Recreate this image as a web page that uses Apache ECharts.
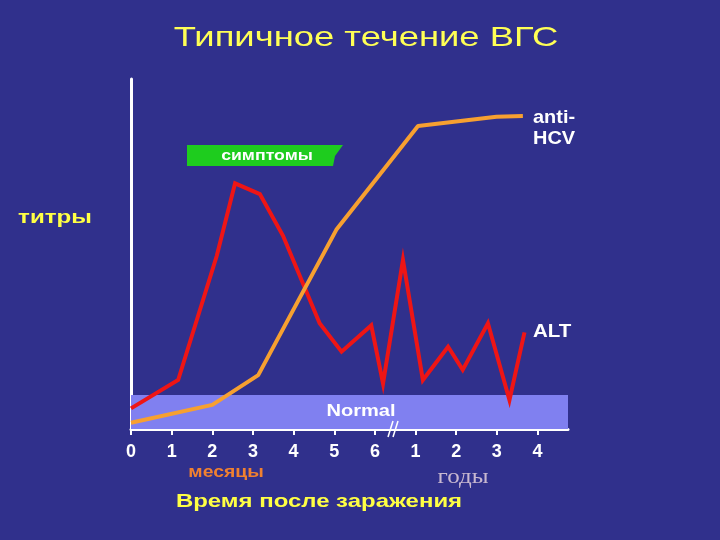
<!DOCTYPE html>
<html><head><meta charset="utf-8">
<script src="https://cdn.jsdelivr.net/npm/echarts@6/dist/echarts.min.js"></script>
<style>html,body{margin:0;padding:0;background:#30308c;}#c{width:720px;height:540px;}</style>
</head><body><div id="c"></div>
<script>
// tick labels (0-6 months, then 1-4 years)
var tickLabels = ["0","1","2","3","4","5","6","1","2","3","4"];
var tickValues = [0,1,2,3,4,5,6,7,8,9,10];
// ALT series [x position, titre]
var altX = [0, 1.16, 2.11, 2.56, 3.17, 3.74, 4.64, 5.18, 5.91, 6.20, 6.69, 7.18, 7.80, 8.16, 8.78, 9.31, 9.68];
var altY = [5.9, 14.0, 49.5, 70.2, 67.1, 55.2, 30.2, 22.1, 29.6, 13.0, 48.3, 14.0, 23.5, 16.9, 30.2, 8.3, 27.6];
// anti-HCV series
var hcvX = [0, 2, 3.13, 5.05, 7.06, 8.99, 9.64];
var hcvY = [1.8, 6.9, 15.4, 56.9, 86.6, 89.2, 89.4];
// normal range
var normalRange = [0, 9.7];

function zip(a, b) { return a.map(function (v, i) { return [v, b[i]]; }); }

var chart = echarts.init(document.getElementById('c'), null, {renderer: 'canvas'});
var fontSans = '"Liberation Sans", Arial, sans-serif';
function txt(x, y, s, color, font, sx, align) {
  return {type: 'text', x: x, y: y, scaleX: sx || 1, z: 30,
    style: {text: s, fill: color, font: font, textAlign: align || 'center', textVerticalAlign: 'middle'}};
}
chart.setOption({
  backgroundColor: '#30308c',
  animation: false,
  grid: {left: 131, right: 152, top: 79, bottom: 111},
  xAxis: {
    type: 'value', min: 0, max: 10.75,
    splitLine: {show: false},
    axisLine: {show: true, onZero: false, lineStyle: {color: '#ffffff', width: 3}},
    axisTick: {show: true, customValues: tickValues, length: 6, lineStyle: {color: '#ffffff', width: 2}},
    axisLabel: {
      customValues: tickValues, margin: 14,
      color: '#ffffff', fontFamily: fontSans, fontWeight: 'bold', fontSize: 18,
      formatter: function (v) { return tickLabels[Math.round(v)]; }
    }
  },
  yAxis: {
    type: 'value', min: 0, max: 100,
    splitLine: {show: false},
    axisLine: {show: true, lineStyle: {color: '#ffffff', width: 3}},
    axisTick: {show: false},
    axisLabel: {show: false}
  },
  series: [
    {
      type: 'line', data: [], z: 1, silent: true,
      markArea: {
        silent: true,
        itemStyle: {color: '#8080f0'},
        label: {show: false},
        data: [[{yAxis: normalRange[0]}, {yAxis: normalRange[1]}]]
      }
    },
    {
      name: 'ALT', type: 'line', z: 3, data: zip(altX, altY), symbol: 'none',
      lineStyle: {color: '#ee1515', width: 4, join: 'miter'}
    },
    {
      name: 'anti-HCV', type: 'line', z: 4, data: zip(hcvX, hcvY), symbol: 'none',
      lineStyle: {color: '#f7a030', width: 4}
    }
  ],
  graphic: [
    txt(366, 38, 'Типичное течение ВГС', '#ffff55', '28px "Liberation Sans", Arial, sans-serif', 1.3),
    {type: 'polygon', shape: {points: [[187,145],[343,145],[335,156],[333,166],[187,166]]},
      style: {fill: '#1ecc1e'}, z: 10},
    txt(267, 156, 'симптомы', '#ffffff', 'bold 15px "Liberation Sans", Arial, sans-serif', 1.18),
    txt(55, 218, 'титры', '#ffff44', 'bold 19px "Liberation Sans", Arial, sans-serif', 1.27),
    txt(533, 118, 'anti-', '#ffffff', 'bold 19px "Liberation Sans", Arial, sans-serif', 1.05, 'left'),
    txt(533, 139, 'HCV', '#ffffff', 'bold 19px "Liberation Sans", Arial, sans-serif', 1.05, 'left'),
    txt(533, 332, 'ALT', '#ffffff', 'bold 19px "Liberation Sans", Arial, sans-serif', 1.08, 'left'),
    txt(361, 411, 'Normal', '#ffffff', 'bold 17px "Liberation Sans", Arial, sans-serif', 1.18),
    txt(226, 472, 'месяцы', '#f08030', 'bold 17px "Liberation Sans", Arial, sans-serif', 1.14),
    txt(463, 478, 'годы', '#c8b8d0', '20px "Liberation Serif", "DejaVu Serif", serif', 1.25),
    txt(319, 502, 'Время после заражения', '#ffff44', 'bold 19px "Liberation Sans", Arial, sans-serif', 1.26),
    {type: 'polyline', shape: {points: [[388,437],[393,421]]}, style: {stroke: '#ffffff', lineWidth: 1.5}, z: 20},
    {type: 'polyline', shape: {points: [[393,437],[398,421]]}, style: {stroke: '#ffffff', lineWidth: 1.5}, z: 20}
  ]
});
</script></body></html>
